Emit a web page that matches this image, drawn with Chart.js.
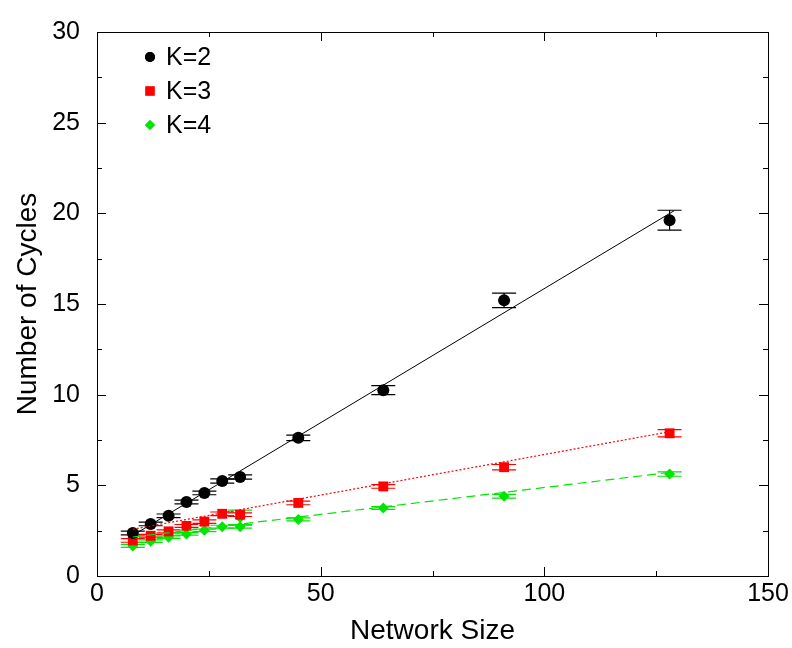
<!DOCTYPE html>
<html>
<head>
<meta charset="utf-8">
<script src="https://cdn.jsdelivr.net/npm/chart.js@4"></script>
<style>
  html, body { margin: 0; padding: 0; background: #fff; }
  #c { display: block; }
</style>
</head>
<body>
<canvas id="c" width="792" height="648"></canvas>
<script>
// ===== DATA =====
const sizes = [8, 12, 16, 20, 24, 28, 32, 45, 64, 91, 128];
const k2 = [2.37, 2.87, 3.32, 4.08, 4.58, 5.24, 5.46, 7.62, 10.25, 15.2, 19.62];
const k2Err = [0.1, 0.1, 0.1, 0.1, 0.1, 0.12, 0.12, 0.15, 0.25, 0.4, 0.55];
const k3 = [1.96, 2.22, 2.46, 2.76, 3.0, 3.43, 3.38, 4.03, 4.94, 6.0, 7.87];
const k3Err = [0.1, 0.08, 0.08, 0.08, 0.1, 0.1, 0.1, 0.1, 0.1, 0.15, 0.2];
const sizesK4 = [8, 12, 16, 20, 24, 28, 32, 32, 45, 64, 91, 128];
const k4 = [1.66, 1.92, 2.14, 2.32, 2.52, 2.72, 2.72, 3.23, 3.12, 3.75, 4.4, 5.62];
const k4Err = [0.08, 0.07, 0.07, 0.07, 0.07, 0.08, 0.08, 0.4, 0.08, 0.08, 0.1, 0.12];
// fitted lines (end points)
const fitX = [8, 129];
const fitK2 = [2.24, 20.14];
const fitK3 = [2.58, 8.0];
const fitK4 = [2.15, 5.74];
const xTicks = [0, 50, 100, 150];
const yTicks = [0, 5, 10, 15, 20, 25, 30];

const FONT = '"Liberation Sans", Arial, sans-serif';
const GREEN = '#00e600';

const pts = (xs, ys, errs) => xs.map((x, i) => ({ x: x, y: ys[i], err: errs ? errs[i] : 0 }));

// error bars with caps
const errorBars = {
  id: 'errorBars',
  beforeDatasetsDraw(chart) {
    const { ctx, scales: { x, y } } = chart;
    ctx.save();
    chart.data.datasets.forEach(ds => {
      if (!ds.errorBars) return;
      ctx.strokeStyle = ds.borderColor;
      ctx.lineWidth = 1.2;
      ds.data.forEach(p => {
        const px = x.getPixelForValue(p.x);
        const top = y.getPixelForValue(p.y + p.err);
        const bot = y.getPixelForValue(p.y - p.err);
        const cap = 12;
        ctx.beginPath();
        ctx.moveTo(px, top); ctx.lineTo(px, bot);
        ctx.moveTo(px - cap, top); ctx.lineTo(px + cap, top);
        ctx.moveTo(px - cap, bot); ctx.lineTo(px + cap, bot);
        ctx.stroke();
      });
    });
    ctx.restore();
  }
};

// frame with inward ticks on all four sides, plus legend
const frame = {
  id: 'frame',
  afterDraw(chart) {
    const { ctx, chartArea: a, scales: { x, y } } = chart;
    ctx.save();
    ctx.strokeStyle = '#000';
    ctx.lineWidth = 1;
    ctx.strokeRect(a.left + 0.5, a.top + 0.5, a.right - a.left, a.bottom - a.top);
    ctx.beginPath();
    for (let v = 0; v <= 150; v += 25) {
      const len = v % 50 === 0 ? 9 : 5;
      const px = Math.round(x.getPixelForValue(v)) + 0.5;
      ctx.moveTo(px, a.bottom); ctx.lineTo(px, a.bottom - len);
      ctx.moveTo(px, a.top); ctx.lineTo(px, a.top + len);
    }
    for (let v = 0; v <= 30; v += 2.5) {
      const len = v % 5 === 0 ? 9 : 5;
      const py = Math.round(y.getPixelForValue(v)) + 0.5;
      ctx.moveTo(a.left, py); ctx.lineTo(a.left + len, py);
      ctx.moveTo(a.right, py); ctx.lineTo(a.right - len, py);
    }
    ctx.stroke();

    // legend
    const items = chart.data.datasets.filter(d => d.legend);
    ctx.font = '25px ' + FONT;
    ctx.textBaseline = 'middle';
    items.forEach((d, i) => {
      const ly = 57 + i * 34;
      ctx.fillStyle = d.backgroundColor;
      ctx.beginPath();
      Chart.helpers.drawPoint(ctx, { pointStyle: d.pointStyle, radius: d.legendRadius, borderWidth: 0 }, 150, ly);
      ctx.fill();
      ctx.fillStyle = '#000';
      ctx.fillText(d.label, 166, ly + 1);
    });
    ctx.restore();
  }
};

new Chart(document.getElementById('c'), {
  type: 'scatter',
  data: {
    datasets: [
      { label: 'fit2', data: pts(fitX, fitK2), showLine: true, borderColor: '#000', borderWidth: 1, pointRadius: 0 },
      { label: 'fit3', data: pts(fitX, fitK3), showLine: true, borderColor: '#ff0000', borderWidth: 1.2, borderDash: [2, 2], pointRadius: 0 },
      { label: 'fit4', data: pts(fitX, fitK4), showLine: true, borderColor: GREEN, borderWidth: 1.2, borderDash: [9, 5], pointRadius: 0 },
      { label: 'K=2', legend: true, legendRadius: 5, errorBars: true, data: pts(sizes, k2, k2Err),
        pointStyle: 'circle', pointRadius: 6, backgroundColor: '#000', borderColor: '#000', borderWidth: 0 },
      { label: 'K=3', legend: true, legendRadius: 6.5, errorBars: true, data: pts(sizes, k3, k3Err),
        pointStyle: 'rect', pointRadius: 7, backgroundColor: '#ff0000', borderColor: '#ff0000', borderWidth: 0 },
      { label: 'K=4', legend: true, legendRadius: 5, errorBars: true, data: pts(sizesK4, k4, k4Err),
        pointStyle: 'rectRot', pointRadius: 5.5, backgroundColor: GREEN, borderColor: GREEN, borderWidth: 0 }
    ]
  },
  options: {
    responsive: false,
    animation: false,
    devicePixelRatio: 1,
    layout: { padding: { top: 16, right: 24, left: 0, bottom: 0 } },
    plugins: { legend: { display: false }, tooltip: { enabled: false } },
    scales: {
      x: {
        type: 'linear', min: 0, max: 150,
        afterBuildTicks: s => { s.ticks = xTicks.map(v => ({ value: v })); },
        afterFit: s => { s.height = 72; },
        grid: { display: false, drawTicks: false },
        border: { display: false },
        ticks: { color: '#000', padding: 3, font: { family: FONT, size: 25 } },
        title: { display: true, text: 'Network Size', color: '#000', padding: { top: 0, bottom: 0 }, font: { family: FONT, size: 28 } }
      },
      y: {
        type: 'linear', min: 0, max: 30,
        afterBuildTicks: s => { s.ticks = yTicks.map(v => ({ value: v })); },
        afterFit: s => { s.width = 97; },
        grid: { display: false, drawTicks: false },
        border: { display: false },
        ticks: { color: '#000', padding: 17, font: { family: FONT, size: 25 } },
        title: { display: true, text: 'Number of Cycles', color: '#000', padding: { top: 11, bottom: 0 }, font: { family: FONT, size: 28 } }
      }
    }
  },
  plugins: [errorBars, frame]
});
</script>
</body>
</html>
